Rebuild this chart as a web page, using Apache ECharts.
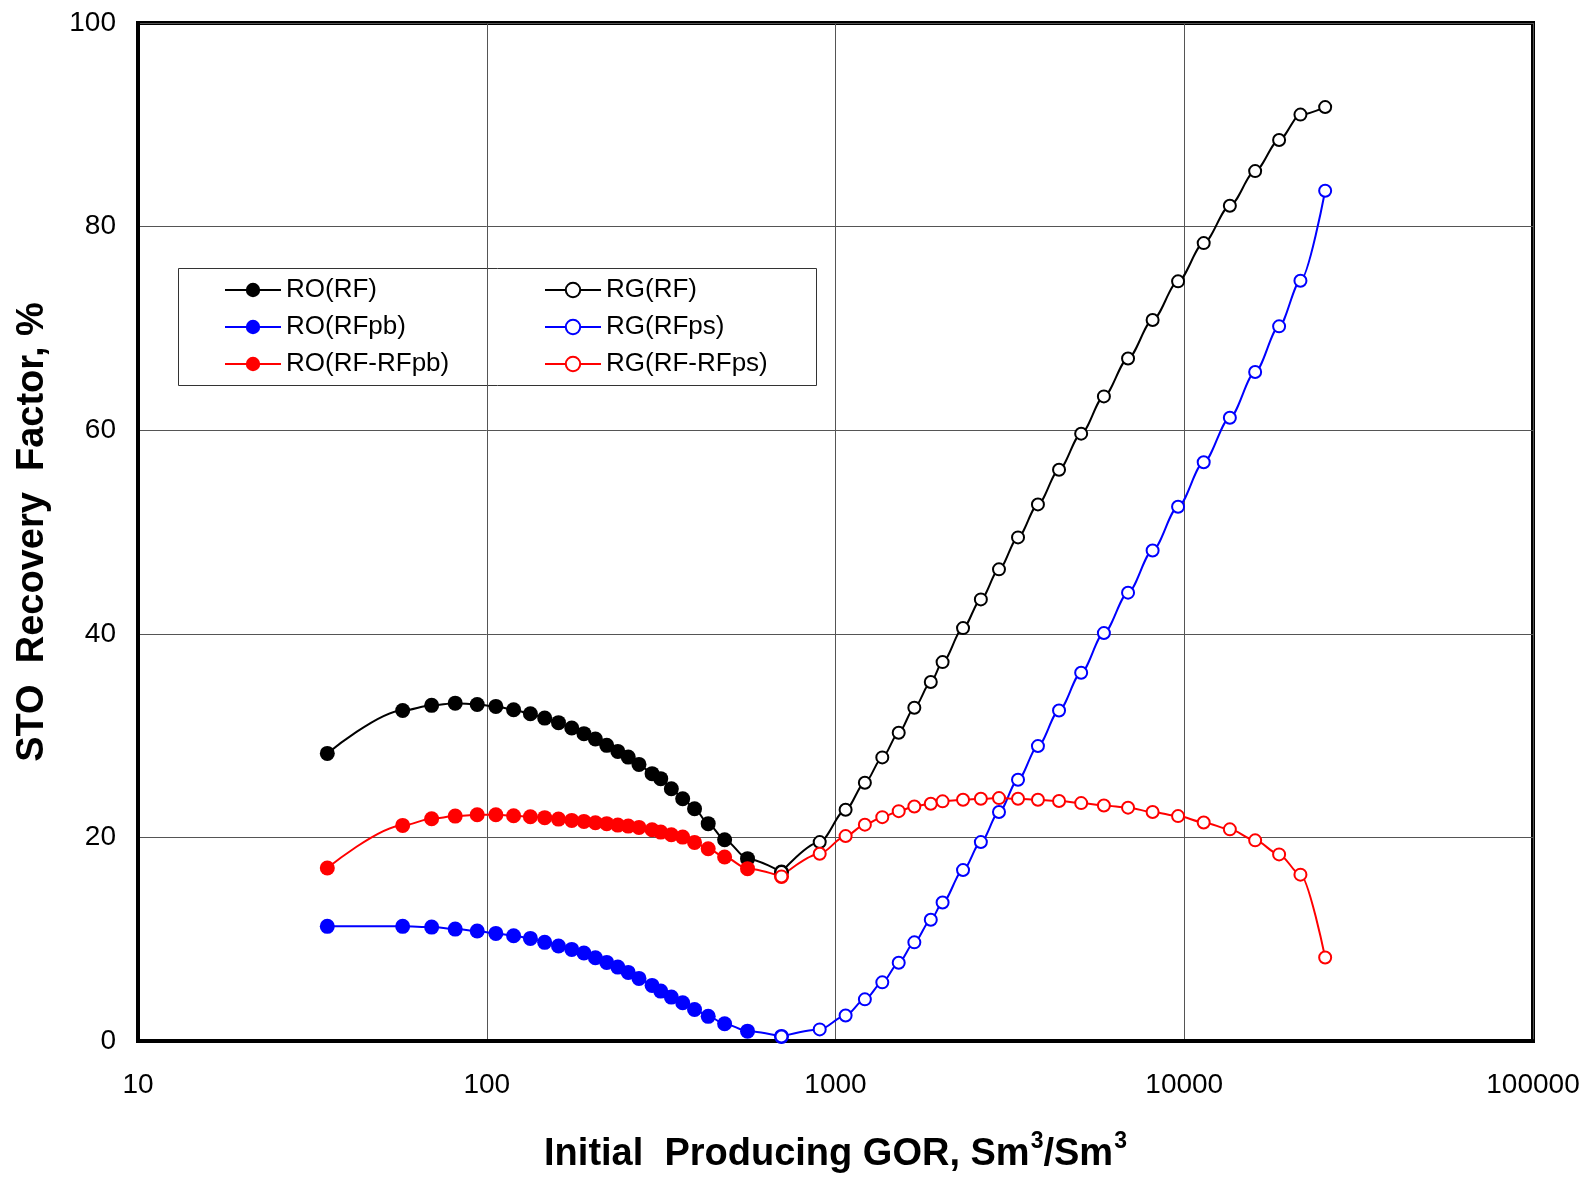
<!DOCTYPE html>
<html>
<head>
<meta charset="utf-8">
<script src="https://cdn.jsdelivr.net/npm/echarts@6/dist/echarts.min.js"></script>
<style>
html,body{margin:0;padding:0;background:#fff;}
#chart{width:1595px;height:1185px;}
</style>
</head>
<body>
<div id="chart"></div>
<script>
// Oil-region (RO) GOR values, Sm3/Sm3
const roGOR = [34.9, 57.4, 69.5, 81.2, 93.9, 106.2, 119.4, 133.4, 146.6, 160.6, 175.3, 190.0, 204.9,
  220.8, 237.6, 254.5, 273.2, 297.9, 315.4, 338.3, 364.6, 394.3, 431.5, 480.9, 559.4, 700];
const roRF = [28.25, 32.47, 32.97, 33.19, 33.06, 32.87, 32.54, 32.15, 31.72, 31.27, 30.74, 30.19, 29.66,
  29.04, 28.45, 27.89, 27.17, 26.26, 25.77, 24.78, 23.80, 22.82, 21.35, 19.77, 17.91, 16.59];
const roRFpb = [11.26, 11.26, 11.19, 10.99, 10.80, 10.57, 10.34, 10.08, 9.69, 9.33, 9.00, 8.64, 8.18,
  7.72, 7.26, 6.74, 6.15, 5.46, 4.90, 4.31, 3.76, 3.10, 2.42, 1.70, 0.97, 0.45];
const roRFdiff = [16.99, 21.18, 21.83, 22.09, 22.23, 22.23, 22.13, 22.03, 21.94, 21.80, 21.67, 21.57, 21.44,
  21.35, 21.21, 21.11, 20.98, 20.75, 20.52, 20.26, 20.03, 19.51, 18.89, 18.07, 16.93, 16.17];

// Gas-region (RG) GOR values, Sm3/Sm3
const rgGOR = [700, 901, 1069, 1214, 1362, 1518, 1683, 1876, 2028, 2321, 2611, 2943, 3337,
  3806, 4375, 5063, 5883, 6900, 8115, 9600, 11370, 13514, 15970, 18706, 21536, 25354];
const rgRF = [16.59, 19.54, 22.72, 25.37, 27.86, 30.28, 32.74, 35.26, 37.22, 40.56, 43.38, 46.33, 49.47,
  52.71, 56.12, 59.66, 63.32, 67.05, 70.82, 74.62, 78.38, 82.05, 85.45, 88.50, 91.00, 91.74];
const rgRFps = [0.45, 1.14, 2.51, 4.09, 5.76, 7.69, 9.69, 11.91, 13.61, 16.79, 19.54, 22.49, 25.66,
  28.97, 32.47, 36.18, 40.07, 44.04, 48.19, 52.48, 56.85, 61.23, 65.71, 70.20, 74.68, 83.52];
const rgRFdiff = [16.17, 18.40, 20.13, 21.25, 21.99, 22.58, 23.04, 23.31, 23.54, 23.70, 23.80, 23.86, 23.80,
  23.70, 23.57, 23.37, 23.14, 22.92, 22.49, 22.09, 21.47, 20.79, 19.71, 18.33, 16.34, 8.20];

const xTicks = [10, 100, 1000, 10000, 100000];
const yTicks = [0, 20, 40, 60, 80, 100];

const names = ['RO(RF)', 'RO(RFpb)', 'RO(RF-RFpb)', 'RG(RF)', 'RG(RFps)', 'RG(RF-RFps)'];
const FONT = '"Liberation Sans", Arial, sans-serif';

function pairs(xs, ys) { return xs.map((x, i) => [x, ys[i]]); }

function filled(name, xs, ys, col) {
  return {
    name: name, type: 'line', data: pairs(xs, ys),
    symbol: 'circle', symbolSize: 15, smooth: 0.3, smoothMonotone: 'x',
    lineStyle: { color: col, width: 2 },
    itemStyle: { color: col },
    emphasis: { disabled: true }
  };
}
function open(name, xs, ys, col) {
  return {
    name: name, type: 'line', data: pairs(xs, ys),
    symbol: 'emptyCircle', symbolSize: 12, smooth: 0.3, smoothMonotone: 'x',
    lineStyle: { color: col, width: 2 },
    itemStyle: { color: col, borderColor: col, borderWidth: 2.5 },
    emphasis: { disabled: true }
  };
}

const chart = echarts.init(document.getElementById('chart'), null, { renderer: 'canvas' });
const legendCommon = {
  orient: 'vertical', itemWidth: 56, itemHeight: 18, itemGap: 11,
  textStyle: { fontFamily: FONT, fontSize: 26, color: '#000' },
  selectedMode: false
};
chart.setOption({
  animation: false,
  backgroundColor: '#fff',
  textStyle: { fontFamily: FONT },
  grid: { left: 138, right: 62, top: 23, bottom: 144, show: true, borderColor: '#000', borderWidth: 4, containLabel: false },
  xAxis: {
    type: 'log', logBase: 10, min: xTicks[0], max: xTicks[xTicks.length - 1],
    axisLine: { show: true, lineStyle: { color: '#000', width: 4 } },
    axisTick: { show: false }, minorTick: { show: false },
    splitLine: { show: true, lineStyle: { color: '#555', width: 1 } },
    axisLabel: { fontFamily: FONT, fontSize: 28, color: '#000', margin: 30,
      formatter: v => String(Math.round(v)) },
    name: '{t|Initial  Producing GOR, Sm}{s|3}{t|/Sm}{s|3}',
    nameLocation: 'middle', nameGap: 89,
    nameTextStyle: {
      rich: {
        t: { fontFamily: FONT, fontSize: 38, fontWeight: 'bold', color: '#000', lineHeight: 50 },
        s: { fontFamily: FONT, fontSize: 23, fontWeight: 'bold', color: '#000', verticalAlign: 'top', lineHeight: 26, padding: [0, 0, 0, 1] }
      }
    }
  },
  yAxis: {
    type: 'value', min: yTicks[0], max: yTicks[yTicks.length - 1], interval: 20,
    axisLine: { show: true, lineStyle: { color: '#000', width: 4 } },
    axisTick: { show: false },
    splitLine: { show: true, lineStyle: { color: '#555', width: 1 } },
    axisLabel: { fontFamily: FONT, fontSize: 28, color: '#000', margin: 22 },
    name: 'STO  Recovery  Factor, %', nameLocation: 'middle', nameGap: 86, nameRotate: 90,
    nameTextStyle: { fontFamily: FONT, fontSize: 38, fontWeight: 'bold', color: '#000' }
  },
  legend: [
    Object.assign({ left: 219, top: 272, data: names.slice(0, 3) }, legendCommon),
    Object.assign({ left: 539, top: 272, data: names.slice(3) }, legendCommon)
  ],
  graphic: [{
    type: 'rect', left: 178, top: 268, z: 0,
    shape: { width: 638, height: 117 },
    style: { fill: '#fff', stroke: '#333', lineWidth: 1 }
  }],
  series: [
    filled(names[0], roGOR, roRF, '#000000'),
    filled(names[1], roGOR, roRFpb, '#0000FF'),
    filled(names[2], roGOR, roRFdiff, '#FF0000'),
    open(names[3], rgGOR, rgRF, '#000000'),
    open(names[4], rgGOR, rgRFps, '#0000FF'),
    open(names[5], rgGOR, rgRFdiff, '#FF0000')
  ]
});
</script>
</body>
</html>
